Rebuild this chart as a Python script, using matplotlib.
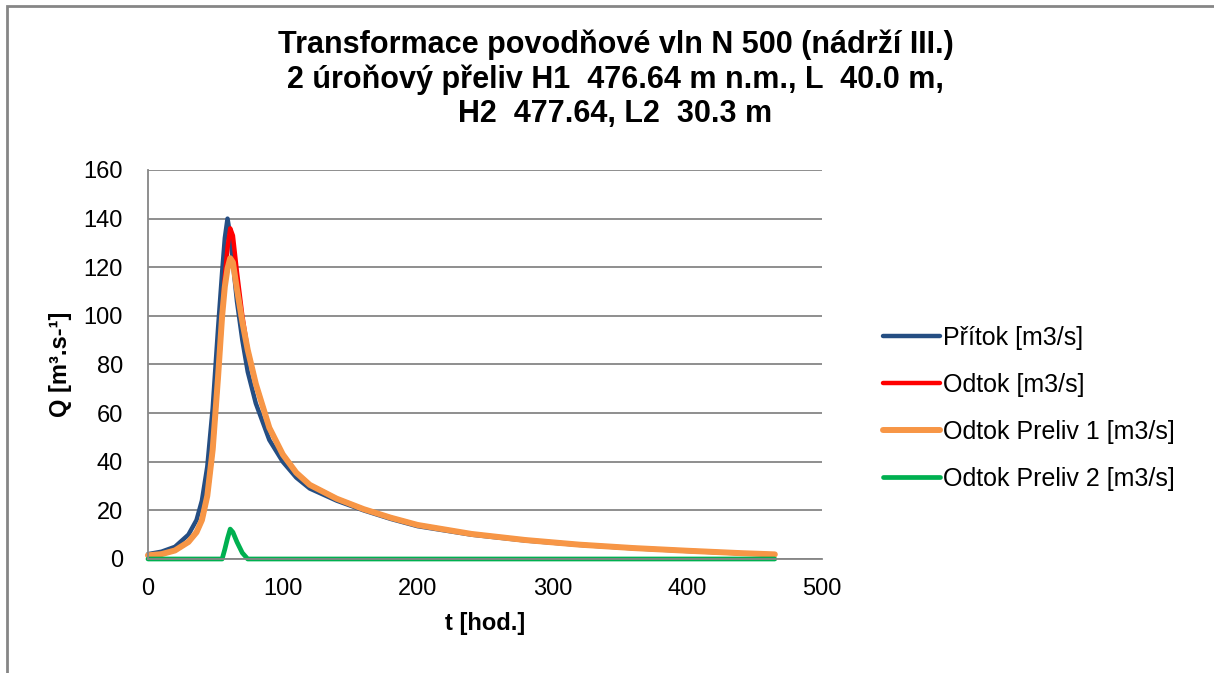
import matplotlib.pyplot as plt
from matplotlib.patches import Rectangle

plt.rcParams['font.family'] = ['Liberation Sans', 'DejaVu Sans']

# time [hours]
t = [0, 10, 20, 30, 36, 40, 44, 48, 52, 55, 57, 59, 61, 63, 66, 70, 74, 80, 90,
     100, 110, 120, 140, 160, 180, 200, 240, 280, 320, 360, 400, 440, 465]

# inflow [m3/s]
pritok = [2, 3, 5, 10, 16, 24, 38, 62, 95, 118, 132, 140, 133, 122, 106, 90, 77, 64, 49,
          40, 33.5, 29, 24, 20, 16.5, 13.5, 10, 7.6, 5.8, 4.4, 3.3, 2.3, 1.8]

# total outflow [m3/s]
odtok = [1.5, 2, 3.5, 7, 11, 16, 26, 45, 75, 100, 116, 128, 136, 133, 118, 100, 86, 72, 54,
         43, 35.5, 30.5, 24.8, 20.5, 17, 14, 10.3, 7.8, 5.9, 4.5, 3.4, 2.4, 1.9]

# outflow over spillway 1 [m3/s]
preliv1 = [1.5, 2, 3.5, 7, 11, 16, 26, 45, 75, 100, 112, 119.5, 123.7, 122, 111, 97.5, 86, 72, 54,
           43, 35.5, 30.5, 24.8, 20.5, 17, 14, 10.3, 7.8, 5.9, 4.5, 3.4, 2.4, 1.9]

# outflow over spillway 2 [m3/s]
preliv2 = [0, 0, 0, 0, 0, 0, 0, 0, 0, 0, 4, 8.5, 12.3, 11, 7, 2.5, 0, 0, 0,
           0, 0, 0, 0, 0, 0, 0, 0, 0, 0, 0, 0, 0, 0]

fig = plt.figure(figsize=(12.14, 6.73), dpi=100)
ax = fig.add_axes([0.1219, 0.1694, 0.5552, 0.578])

style = dict(solid_capstyle='round', clip_on=False)
ax.plot(t, pritok, color='#254E83', lw=3.2, label='Přítok [m3/s]', **style)
ax.plot(t, odtok, color='#FF0000', lw=3.2, label='Odtok [m3/s]', **style)
ax.plot(t, preliv1, color='#F79646', lw=4.3, label='Odtok Preliv 1 [m3/s]', **style)
ax.plot(t, preliv2, color='#00B050', lw=3.4, label='Odtok Preliv 2 [m3/s]', **style)

ax.set_xlim(0, 500)
ax.set_ylim(0, 160)
ax.set_xticks(range(0, 501, 100))
ax.set_yticks(range(0, 161, 20))
ax.tick_params(length=0, labelsize=17)
ax.tick_params(axis='x', pad=14)
ax.tick_params(axis='y', pad=18)
ax.yaxis.grid(True, color='#868686', lw=1.3)
ax.set_axisbelow(True)
for s in ['top', 'right']:
    ax.spines[s].set_visible(False)
for s in ['left', 'bottom']:
    ax.spines[s].set_color('#868686')
    ax.spines[s].set_linewidth(1.3)

ax.set_xlabel('t [hod.]', fontsize=17, fontweight='bold', labelpad=8)
ax.set_ylabel('Q [m³.s-¹]', fontsize=17, fontweight='bold', labelpad=8)

fig.text(0.507, 0.8826,
         'Transformace povodňové vln N 500 (nádrží III.)\n'
         '2 úroňový přeliv H1  476.64 m n.m., L  40.0 m,\n'
         'H2  477.64, L2  30.3 m',
         ha='center', va='center', fontsize=22, fontweight='bold', linespacing=1.18)

ax.legend(loc='center left', bbox_to_anchor=(1.0905, 0.388), frameon=False, fontsize=18,
          borderaxespad=0, borderpad=0,
          handlelength=2.28, handletextpad=0.12, labelspacing=0.92)

fig.patches.append(Rectangle((7 / 1214, -0.1), 1.1, 1.1 - 6 / 673,
                             transform=fig.transFigure, fill=False,
                             edgecolor='#868686', lw=2))

fig.savefig('out.png', dpi=100)
